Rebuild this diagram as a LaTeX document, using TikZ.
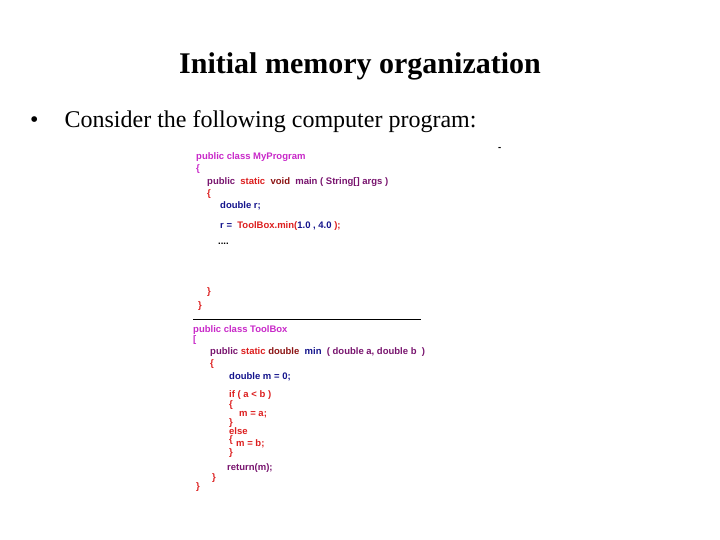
\documentclass[tikz,border=0pt]{standalone}
\usepackage{fontspec}
\setmainfont{Liberation Serif}
\newfontfamily\codefont{Liberation Sans}
\definecolor{cmag}{RGB}{200,40,200}
\definecolor{cred}{RGB}{220,30,30}
\definecolor{cdred}{RGB}{140,20,20}
\definecolor{cpur}{RGB}{120,20,110}
\definecolor{cnavy}{RGB}{20,20,140}
\begin{document}
\begin{tikzpicture}[x=1pt,y=-1pt,
  code/.style={anchor=west,inner sep=0pt,font=\codefont\bfseries\fontsize{9.5}{10}\selectfont}]
\useasboundingbox (0,0) rectangle (720,540);
\node[font=\bfseries\fontsize{30}{33}\selectfont] (title) at (360,66) {Initial memory organization};
\node[anchor=west,inner sep=0pt,font=\fontsize{24}{26}\selectfont] (bul) at (30,122) {\textbullet\hspace{26pt}Consider the following computer program:};
\node[code] (d) at (498,149) {-};
\node[code,text=cmag] (l1) at (196,157) {public class MyProgram};
\node[code,text=cmag] (l2) at (196,169) {\{};
\node[code] (l3) at (207,182) {\textcolor{cpur}{public} \ \textcolor{cred}{static} \ \textcolor{cdred}{void} \ \textcolor{cpur}{main ( String[] args )}};
\node[code,text=cred] (l4) at (207,194) {\{};
\node[code,text=cnavy] (l5) at (220,206) {double r;};
\node[code] (l6) at (220,226) {\textcolor{cnavy}{r =} \ \textcolor{cred}{ToolBox.min(}\textcolor{cnavy}{1.0 , 4.0} \textcolor{cred}{);}};
\node[code] (l7) at (218,244) {....};
\node[code,text=cred] (l8) at (207,292) {\}};
\node[code,text=cred] (l9) at (198,306) {\}};
\coordinate (sa) at (193,319); \coordinate (sb) at (421,319);
\draw (sa) -- (sb);
\node[code,text=cmag] (m1) at (193,330) {public class ToolBox};
\node[code,text=cmag] (m2) at (193,340) {[};
\node[code] (m3) at (210,352) {\textcolor{cpur}{public} \textcolor{cred}{static} \textcolor{cdred}{double} \ \textcolor{cnavy}{min} \ \textcolor{cpur}{( double a, double b \ )}};
\node[code,text=cred] (m4) at (210,364) {\{};
\node[code,text=cnavy] (m5) at (229,377) {double m = 0;};
\node[code,text=cred] (m6) at (229,395) {if ( a < b )};
\node[code,text=cred] (m7) at (229,405) {\{};
\node[code,text=cred] (m8) at (239,415) {m = a;};
\node[code,text=cred] (m9) at (229,423) {\}};
\node[code,text=cred] (m10) at (229,431) {else};
\node[code,text=cred] (m11) at (229,440) {\{};
\node[code,text=cred] (m12) at (236,444) {m = b;};
\node[code,text=cred] (m13) at (229,453) {\}};
\node[code,text=cpur] (m14) at (227,468) {return(m);};
\node[code,text=cred] (m15) at (212,478) {\}};
\node[code,text=cred] (m16) at (196,487) {\}};
\end{tikzpicture}
\end{document}
